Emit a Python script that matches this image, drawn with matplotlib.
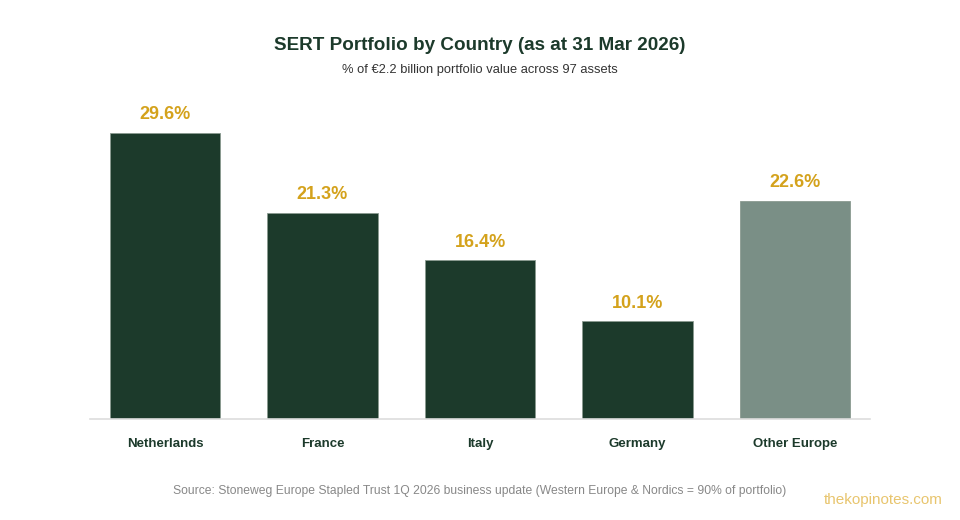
import matplotlib.pyplot as plt

countries = ['Netherlands', 'France', 'Italy', 'Germany', 'Other Europe']
shares = [29.6, 21.3, 16.4, 10.1, 22.6]
colors = ['#1c3a2b', '#1c3a2b', '#1c3a2b', '#1c3a2b', '#7a8f86']

plt.rcParams['font.family'] = ['Liberation Sans', 'DejaVu Sans']

fig = plt.figure(figsize=(9.6, 5.2), dpi=100)
ax = fig.add_axes([0.09375, 0.1942, 0.8125, 0.6135])

x = range(len(countries))
bars = ax.bar(x, shares, width=0.7, color=colors, edgecolor='#8a9a90', linewidth=0.6)
ax.set_xlim(-0.476, 4.476)
ax.set_ylim(0, 33)

for b, v in zip(bars, shares):
    ax.annotate(f'{v:.1f}%', (b.get_x() + b.get_width() / 2, v),
                xytext=(0, 7), textcoords='offset points', ha='center', va='bottom',
                fontsize=13, fontweight='bold', color='#d4a21c')

ax.set_xticks(list(x))
ax.set_xticklabels(countries, fontsize=9.5, fontweight='bold', color='#1c3a2b')
ax.tick_params(axis='x', length=0, pad=14)
ax.set_yticks([])
for s in ('top', 'right', 'left'):
    ax.spines[s].set_visible(False)
ax.spines['bottom'].set_color('#dddddd')
ax.spines['bottom'].set_linewidth(1.2)

fig.text(0.5, 1 - 45 / 520, 'SERT Portfolio by Country (as at 31 Mar 2026)',
         ha='center', va='center', fontsize=13.6, fontweight='bold', color='#1c3a2b')
fig.text(0.5, 1 - 70 / 520, '% of €2.2 billion portfolio value across 97 assets',
         ha='center', va='center', fontsize=9.3, color='#333333')
fig.text(0.5, 1 - 491 / 520,
         'Source: Stoneweg Europe Stapled Trust 1Q 2026 business update (Western Europe & Nordics = 90% of portfolio)',
         ha='center', va='center', fontsize=8.7, color='#888888')
fig.text(883 / 960, 1 - 500 / 520, 'thekopinotes.com', ha='center', va='center',
         fontsize=11, color='#e8c56e')

fig.savefig('out.png', dpi=100)
